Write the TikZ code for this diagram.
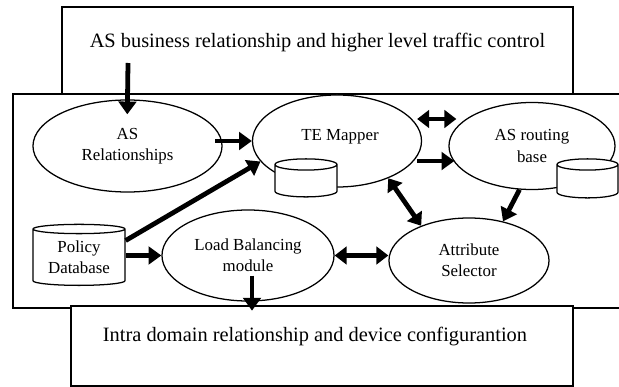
\documentclass[tikz,border=0pt]{standalone}
\usepackage{fontspec}
\setmainfont{Liberation Serif}
\usetikzlibrary{shapes,arrows.meta,positioning,calc}

\begin{document}
\begin{tikzpicture}[
  x=0.025cm, y=-0.025cm,
  box/.style={draw, line width=0.9pt, fill=white, inner sep=0pt},
  ell/.style={draw, ellipse, line width=0.9pt, fill=white, inner sep=0pt, align=center, font=\fontsize{12}{15}\selectfont},
  db/.style={draw, cylinder, shape border rotate=90, aspect=0.15, line width=0.9pt, fill=white, inner sep=0pt, align=center, font=\fontsize{12}{15}\selectfont},
  big/.style={font=\fontsize{14.5}{17}\selectfont},
  arr/.style={line width=3.4pt, -{Triangle[length=0.32cm, width=0.44cm]}},
  dbl/.style={line width=3.4pt, {Triangle[length=0.3cm, width=0.44cm]}-{Triangle[length=0.3cm, width=0.44cm]}}
]
\useasboundingbox (0,0) rectangle (619,387);
\draw[line width=0.9pt] (619,94) -- (13,94) -- (13,308) -- (619,308);

\node[box, minimum width=12.775cm, minimum height=2.175cm] (topbox) at (317.5,50.5) {};
\node[big] (toptext) at (317.5,43) {AS business relationship and higher level traffic control};
\node[box, minimum width=12.55cm, minimum height=2cm] (botbox) at (322,346) {};
\node[big] (bottext) at (315,337) {Intra domain relationship and device configurantion};

\node[ell, minimum width=4.725cm, minimum height=2.3cm] (asrel) at (127.5,146) {AS\\ Relationships};
\node[ell, minimum width=4.225cm, minimum height=2.3cm] (te) at (337,141) {};
\node[font=\fontsize{12}{15}\selectfont] (tetext) at (340,137) {TE Mapper};
\node[ell, minimum width=4.15cm, minimum height=2.175cm] (asr) at (532,146) {AS routing\\ base};
\node[ell, minimum width=4.3cm, minimum height=2.275cm] (lb) at (248,255.5) {Load Balancing\\ module};
\node[ell, minimum width=4cm, minimum height=2.125cm] (attr) at (469,260.5) {Attribute\\ Selector};

\node[db, minimum width=2.3cm, minimum height=1.525cm] (pdb) at (79,257.5) {Policy\\ Database};
\node[db, text width=1.4cm, minimum width=1.55cm, minimum height=0.95cm, aspect=0.2] (tedb) at (306,181) {};
\node[db, text width=1.4cm, minimum width=1.525cm, minimum height=0.975cm, aspect=0.2] (asrdb) at (587.5,181.5) {};

\coordinate (toparr) at (128,63);

\draw[arr, shorten >=-0.375cm] (toparr) -- (asrel.north);
\draw[arr, shorten <=-0.18cm] (asrel.east |- te.west) -- (te.west);
\draw[arr] (pdb.20) -- (te.195);
\draw[arr] (pdb.east |- lb.west) -- (lb.west);
\draw[dbl, shorten <=-0.125cm, shorten >=-0.2cm] ([yshift=0.55cm]te.east) -- ([yshift=0.55cm]te.east -| asr.west);
\draw[arr, shorten <=-0.125cm, shorten >=-0.15cm] ([yshift=-0.5cm]te.east) -- ([yshift=-0.5cm]te.east -| asr.west);
\draw[dbl] (te.-36) -- (attr.144);
\draw[arr] (asr.254) -- (attr.49);
\draw[dbl] (lb.east) -- (lb.east -| attr.west);
\draw[arr, shorten >=-0.225cm] ([xshift=0.1cm, yshift=-0.5cm]lb.center) -- ([xshift=0.1cm]lb.south);
\end{tikzpicture}
\end{document}
